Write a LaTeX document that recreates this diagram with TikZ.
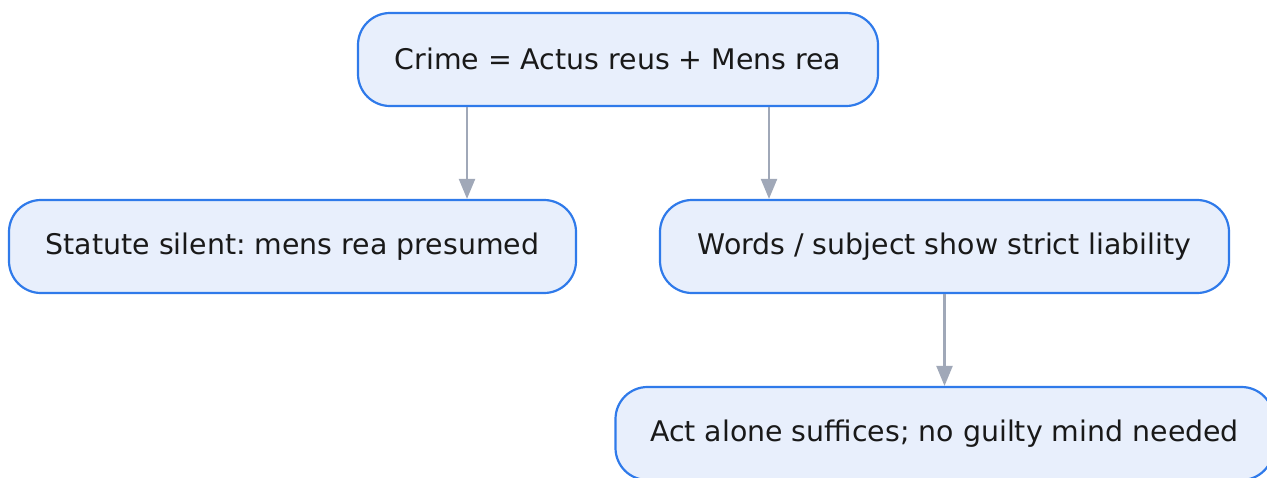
\documentclass[tikz,border=0pt]{standalone}
\usepackage{fontspec}
\setmainfont{DejaVu Sans}
\usetikzlibrary{arrows.meta, positioning}
\frenchspacing

\definecolor{boxfill}{HTML}{E8EFFC}
\definecolor{boxline}{HTML}{2F7AEA}
\definecolor{flowgray}{HTML}{A0A8B8}

\begin{document}
\begin{tikzpicture}[
    x=0.5pt, y=-0.5pt,
    >={Triangle[length=10pt, width=8pt]},
    stepbox/.style={draw=boxline, line width=1.1pt, fill=boxfill, rounded corners=16pt,
        minimum height=46.5pt, inner sep=0pt, font=\fontsize{14.2}{17}\selectfont, text=black!90},
    flow/.style={->, draw=flowgray, line width=1.1pt},
]
\useasboundingbox (0,0) rectangle (1267,477);
\clip (0,0) rectangle (1267,477);
% === Top: definition ===
\node[stepbox, minimum width=260pt] (crime) at (618, 59.5) {\raisebox{1pt}{Crime = Actus reus + Mens rea}};
% === Middle row ===
\node[stepbox, minimum width=283.5pt] (silent) at (292.5, 246.5) {\raisebox{1pt}{Statute silent: mens rea presumed}};
\node[stepbox, minimum width=284.5pt] (strict) at (944.5, 246.5) {\raisebox{1pt}{Words / subject show strict liability}};
% === Bottom: consequence ===
\node[stepbox, minimum width=329pt] (actalone) at (944.5, 433.5) {\raisebox{1pt}{Act alone suffices; no guilty mind needed}};
% Connectors
\draw[flow] ([xshift=-75.5pt]crime.south) -- ([xshift=-75.5pt]crime.south |- silent.north);
\draw[flow] ([xshift=75.5pt]crime.south) -- ([xshift=75.5pt]crime.south |- strict.north);
\draw[flow] (strict.south) -- (actalone.north);
\end{tikzpicture}
\end{document}
